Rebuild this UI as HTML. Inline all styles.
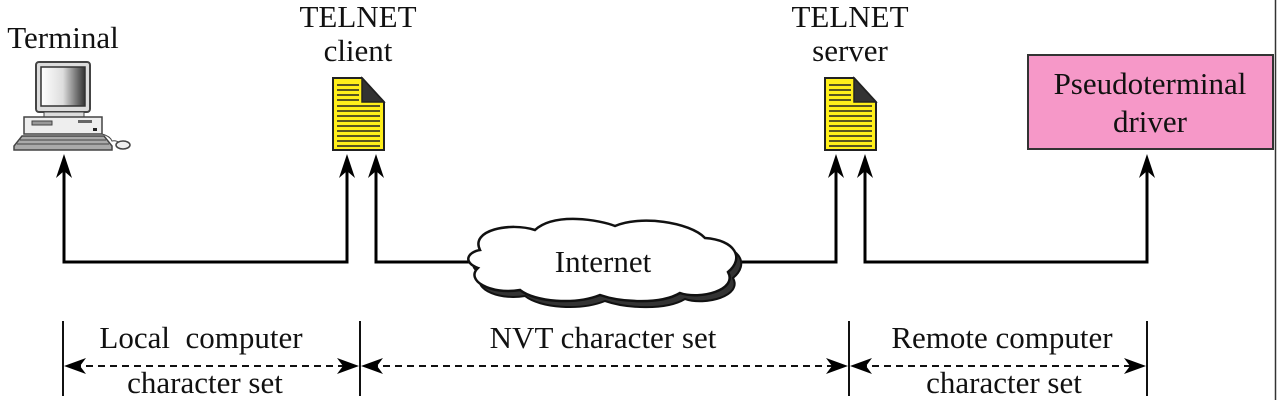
<!DOCTYPE html>
<html><head><meta charset="utf-8"><style>
html,body{margin:0;padding:0;background:#fff;}
svg{display:block;}
text{font-family:"Liberation Serif",serif;fill:#111;}
</style></head><body>
<svg width="1277" height="400" viewBox="0 0 1277 400" xmlns="http://www.w3.org/2000/svg">
<defs>
<linearGradient id="scr" x1="0" x2="1"><stop offset="0" stop-color="#fff"/><stop offset="0.5" stop-color="#ddd"/><stop offset="1" stop-color="#333"/></linearGradient>
<g id="doc">
<path d="M0,0 H29 L51,24 V72 H0 Z" fill="#ffef1a" stroke="#222" stroke-width="2"/>
<path d="M29,0 L51,24 H29 Z" fill="#333" stroke="#222" stroke-width="1.5"/>
<g stroke="#222" stroke-width="1.6">
<line x1="4" y1="7" x2="26" y2="7"/><line x1="4" y1="12" x2="26" y2="12"/><line x1="4" y1="17" x2="26" y2="17"/><line x1="4" y1="22" x2="26" y2="22"/>
<line x1="4" y1="28" x2="47" y2="28"/><line x1="4" y1="33" x2="47" y2="33"/><line x1="4" y1="38" x2="47" y2="38"/><line x1="4" y1="43" x2="47" y2="43"/><line x1="4" y1="48" x2="47" y2="48"/><line x1="4" y1="53" x2="47" y2="53"/><line x1="4" y1="58" x2="47" y2="58"/><line x1="4" y1="63" x2="47" y2="63"/><line x1="4" y1="68" x2="47" y2="68"/>
</g></g>
<g id="up"><path d="M0,0 L-8,24 L0,17 L8,24 Z" fill="#000"/></g>
</defs>

<!-- top labels -->
<text x="63" y="48" font-size="31" text-anchor="middle">Terminal</text>
<text x="358" y="27" font-size="31" text-anchor="middle">TELNET</text>
<text x="358" y="61" font-size="31" text-anchor="middle">client</text>
<text x="850" y="27" font-size="31" text-anchor="middle">TELNET</text>
<text x="850" y="61" font-size="31" text-anchor="middle">server</text>

<!-- computer -->
<rect x="36" y="62" width="54" height="50" rx="3" fill="#ddd" stroke="#444" stroke-width="2"/>
<rect x="41" y="67" width="44" height="39" fill="url(#scr)" stroke="#333" stroke-width="1.5"/>
<rect x="44" y="112" width="40" height="5" fill="#ddd" stroke="#444"/>
<rect x="24" y="117" width="78" height="17" fill="#eee" stroke="#444" stroke-width="1.5"/>
<rect x="32" y="121" width="20" height="4" fill="#999" stroke="#444"/>
<rect x="78" y="120" width="14" height="3" fill="#666"/>
<rect x="93" y="128" width="4" height="3" fill="#222"/>
<path d="M22,136 H104 L112,146 V150 H14 V146 Z" fill="#aaa" stroke="#444" stroke-width="1.5"/>
<g stroke="#444" stroke-width="1"><line x1="20" y1="140" x2="106" y2="140"/><line x1="17" y1="144" x2="109" y2="144"/></g>
<path d="M102,134 Q110,136 112,141 Q116,140 120,143" fill="none" stroke="#444"/>
<ellipse cx="123" cy="145" rx="7" ry="4" fill="#eee" stroke="#444" stroke-width="1.5"/>

<!-- docs -->
<use href="#doc" x="333" y="78"/>
<use href="#doc" x="825" y="78"/>

<!-- pseudoterminal -->
<rect x="1028" y="55" width="245" height="94" fill="#f698c8" stroke="#333" stroke-width="2"/>
<text x="1150" y="94" font-size="31" text-anchor="middle">Pseudoterminal</text>
<text x="1150" y="132" font-size="31" text-anchor="middle">driver</text>
<line x1="1275.5" y1="0" x2="1275.5" y2="400" stroke="#333" stroke-width="1.5"/>

<!-- connectors -->
<g fill="none" stroke="#000" stroke-width="3">
<polyline points="64,165 64,262 347,262 347,165"/>
<polyline points="376,165 376,262 475,262"/>
<polyline points="735,262 836,262 836,165"/>
<polyline points="865,165 865,262 1147,262 1147,165"/>
</g>
<use href="#up" x="64" y="154"/><use href="#up" x="347" y="154"/><use href="#up" x="376" y="154"/>
<use href="#up" x="836" y="154"/><use href="#up" x="865" y="154"/><use href="#up" x="1147" y="154"/>

<!-- cloud -->
<g transform="translate(5,6)">
<path d="M480,250 C470,230 510,222 535,230 C555,212 600,220 615,226 C640,215 690,222 705,238 C735,240 745,258 728,272 C738,290 700,300 680,293 C660,305 620,302 600,295 C575,305 535,302 520,290 C490,295 465,280 478,268 C462,262 468,252 480,250 Z" fill="#333" stroke="#111" stroke-width="2"/>
</g>
<path d="M480,250 C470,230 510,222 535,230 C555,212 600,220 615,226 C640,215 690,222 705,238 C735,240 745,258 728,272 C738,290 700,300 680,293 C660,305 620,302 600,295 C575,305 535,302 520,290 C490,295 465,280 478,268 C462,262 468,252 480,250 Z" fill="#fff" stroke="#111" stroke-width="2.5"/>
<text x="603" y="272" font-size="31" text-anchor="middle">Internet</text>

<!-- bottom -->
<g stroke="#111" stroke-width="2">
<line x1="63" y1="321" x2="63" y2="396"/><line x1="360" y1="321" x2="360" y2="396"/>
<line x1="849" y1="321" x2="849" y2="396"/><line x1="1147" y1="321" x2="1147" y2="396"/>
</g>
<g stroke="#111" stroke-width="2" stroke-dasharray="7,5">
<line x1="74" y1="366" x2="349" y2="366"/><line x1="371" y1="366" x2="838" y2="366"/><line x1="860" y1="366" x2="1136" y2="366"/>
</g>
<g fill="#000">
<path d="M64,366 L86,358 L80,366 L86,374 Z"/><path d="M359,366 L337,358 L343,366 L337,374 Z"/>
<path d="M361,366 L383,358 L377,366 L383,374 Z"/><path d="M848,366 L826,358 L832,366 L826,374 Z"/>
<path d="M850,366 L872,358 L866,366 L872,374 Z"/><path d="M1146,366 L1124,358 L1130,366 L1124,374 Z"/>
</g>
<text x="201" y="348" font-size="31" text-anchor="middle" xml:space="preserve">Local  computer</text>
<text x="205" y="393" font-size="31" text-anchor="middle">character set</text>
<text x="603" y="348" font-size="31" text-anchor="middle">NVT character set</text>
<text x="1002" y="348" font-size="31" text-anchor="middle">Remote computer</text>
<text x="1004" y="393" font-size="31" text-anchor="middle">character set</text>
</svg>
</body></html>
